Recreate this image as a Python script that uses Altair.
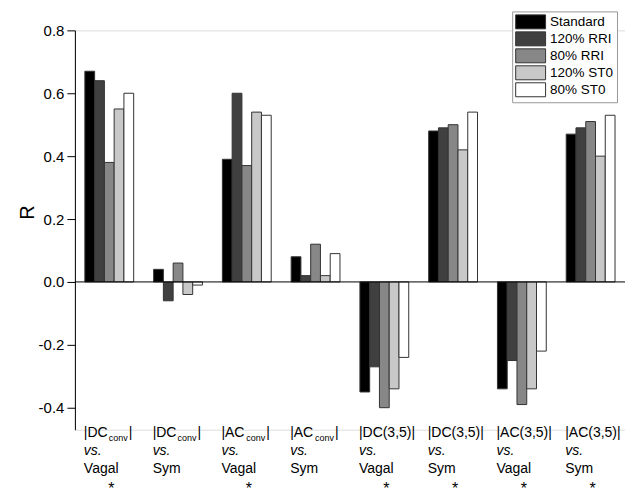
import altair as alt
import pandas as pd

groups = ["G1", "G2", "G3", "G4", "G5", "G6", "G7", "G8"]
series = ["Standard", "120% RRI", "80% RRI", "120% ST0", "80% ST0"]
colors = ["#000000", "#404040", "#878787", "#c8c8c8", "#ffffff"]

standard = [0.67, 0.04, 0.39, 0.08, -0.35, 0.48, -0.34, 0.47]
rri120 = [0.64, -0.06, 0.60, 0.02, -0.27, 0.49, -0.25, 0.49]
rri80 = [0.38, 0.06, 0.37, 0.12, -0.40, 0.50, -0.39, 0.51]
st0_120 = [0.55, -0.04, 0.54, 0.02, -0.34, 0.42, -0.34, 0.40]
st0_80 = [0.60, -0.01, 0.53, 0.09, -0.24, 0.54, -0.22, 0.53]

line1 = ["|DC", "|DC", "|AC", "|AC", "|DC(3,5)|", "|DC(3,5)|", "|AC(3,5)|", "|AC(3,5)|"]
sub = ["conv", "conv", "conv", "conv", "", "", "", ""]
close = ["|", "|", "|", "|", "", "", "", ""]
line2 = ["vs."] * 8
line3 = ["Vagal", "Sym", "Vagal", "Sym", "Vagal", "Sym", "Vagal", "Sym"]
star = ["*", "", "*", "", "*", "*", "*", "*"]

major_ticks = [-0.4, -0.2, 0.0, 0.2, 0.4, 0.6, 0.8]
minor_ticks = [-0.47, -0.3, -0.1, 0.1, 0.3, 0.5, 0.7]

FONT = "Liberation Sans"

rows = []
for s, vals in zip(series, [standard, rri120, rri80, st0_120, st0_80]):
    for g, v in zip(groups, vals):
        rows.append({"group": g, "series": s, "R": v})
bars_df = pd.DataFrame(rows)

labels_df = pd.DataFrame({
    "group": groups, "l1": line1, "sub": sub, "close": close,
    "l2": line2, "l3": line3, "star": star,
})

xscale = alt.Scale(domain=groups, paddingInner=0.29, paddingOuter=0.145)
yscale = alt.Scale(domain=[-0.47, 0.8], nice=False, zero=False)

bars = alt.Chart(bars_df).mark_bar(stroke="#333333", strokeWidth=1, opacity=1).encode(
    x=alt.X("group:N", scale=xscale, axis=None, sort=groups),
    xOffset=alt.XOffset("series:N", sort=series,
                        scale=alt.Scale(paddingInner=0, paddingOuter=0)),
    y=alt.Y("R:Q", scale=yscale, axis=alt.Axis(
        values=major_ticks, format=".1f",
        labelExpr="replace(datum.label, '\u2212', '-')",
        tickSize=8,
        labelFont=FONT, labelFontSize=15, labelColor="black", labelPadding=3,
        labelOverlap=False,
        domainColor="black", tickColor="black", grid=False,
        title="R", titleFont=FONT, titleFontSize=20, titleFontWeight="normal",
        titleColor="black", titleAngle=270, titleX=-47, titleY=182,
        titleAlign="center", titleBaseline="middle",
    )),
    fill=alt.Fill("series:N", sort=series,
                  scale=alt.Scale(domain=series, range=colors),
                  legend=alt.Legend(
                      title=None, orient="none", legendX=438, legendY=-19,
                      symbolType="M-1,-1H3.28V1H-1Z", symbolSize=196,
                      symbolStrokeColor="#333333", symbolStrokeWidth=1,
                      symbolOpacity=1,
                      labelFont=FONT, labelFontSize=13.5, labelColor="black",
                      labelOffset=20, rowPadding=-3, padding=3,
                      strokeColor="#999999", fillColor="white",
                  )),
)

zero = alt.Chart(pd.DataFrame({"y": [0.0]})).mark_rule(color="black", strokeWidth=1).encode(
    y=alt.Y("y:Q", scale=yscale, axis=alt.Axis(
        values=minor_ticks, labels=False, domain=False, tickSize=4,
        tickColor="black", grid=False, title=None,
    ))
)

def txt(field, y, dx=-1, size=14, style="normal", align="left"):
    return alt.Chart(labels_df).mark_text(
        font=FONT, fontSize=size, fontStyle=style, align=align,
        baseline="alphabetic", dx=dx, color="black",
    ).encode(
        x=alt.X("group:N", scale=xscale, axis=None, sort=groups, bandPosition=0),
        y=alt.value(y),
        text=alt.Text(f"{field}:N"),
    )

t1 = txt("l1", 407)
tsub = txt("sub", 411, dx=24, size=9)
tclose = txt("close", 407, dx=44)
t2 = txt("l2", 425, style="italic")
t3 = txt("l3", 443)
tstar = alt.Chart(labels_df).mark_text(
    font=FONT, fontSize=16, align="center", baseline="alphabetic", dx=2, color="black",
).encode(
    x=alt.X("group:N", scale=xscale, axis=None, sort=groups, bandPosition=0.5),
    y=alt.value(464),
    text=alt.Text("star:N"),
)

chart = alt.layer(bars, zero, t1, tsub, tclose, t2, t3, tstar).resolve_axis(
    y="independent"
).properties(
    width=551, height=400,
    padding={"left": 67, "top": 22, "right": 0, "bottom": 69},
    autosize=alt.AutoSizeParams(type="none"),
).configure_view(stroke=None).configure(background="white")

chart.save("out.html", embed_options={"renderer": "svg", "actions": False})
